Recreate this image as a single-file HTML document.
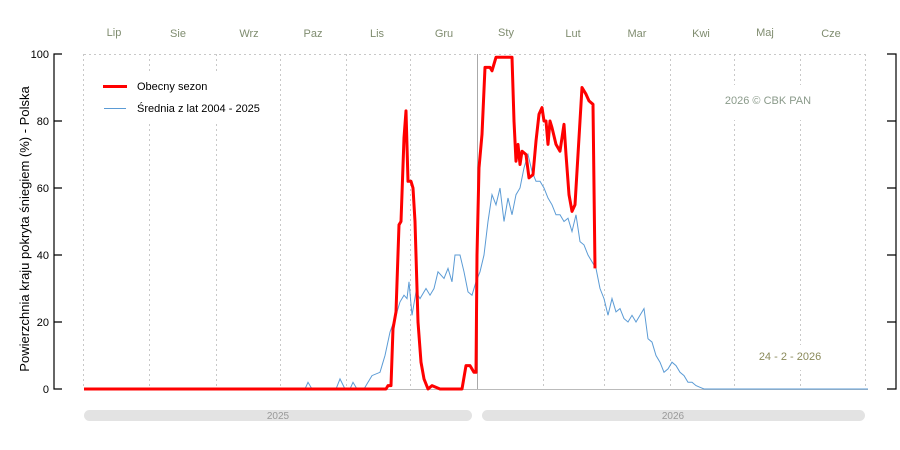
<!DOCTYPE html>
<html><head><meta charset="utf-8"><style>
html,body{margin:0;padding:0;background:#fff;}
svg{display:block;font-family:"Liberation Sans",Arial,sans-serif;}
</style></head><body>
<svg id="s" width="900" height="450" viewBox="0 0 900 450" xmlns="http://www.w3.org/2000/svg">
<g stroke="#c8c8c8" stroke-dasharray="2,3" stroke-width="1">
<line x1="84" y1="54.5" x2="868" y2="54.5"/>
<line x1="83.5" y1="54" x2="83.5" y2="389"/>
<line x1="149.5" y1="54" x2="149.5" y2="389"/>
<line x1="216.5" y1="54" x2="216.5" y2="389"/>
<line x1="280.5" y1="54" x2="280.5" y2="389"/>
<line x1="346.5" y1="54" x2="346.5" y2="389"/>
<line x1="410.5" y1="54" x2="410.5" y2="389"/>
<line x1="543.5" y1="54" x2="543.5" y2="389"/>
<line x1="604.5" y1="54" x2="604.5" y2="389"/>
<line x1="670.5" y1="54" x2="670.5" y2="389"/>
<line x1="734.5" y1="54" x2="734.5" y2="389"/>
<line x1="800.5" y1="54" x2="800.5" y2="389"/>
<line x1="865.5" y1="54" x2="865.5" y2="389"/>
</g>
<line x1="477.5" y1="54" x2="477.5" y2="389" stroke="#aaa"/>
<line x1="84" y1="389.5" x2="868" y2="389.5" stroke="#bbb"/>
<rect x="95" y="72" width="170" height="50" fill="#fff"/>
<rect x="720" y="85" width="100" height="35" fill="#fff"/>
<rect x="750" y="345" width="80" height="25" fill="#fff"/>
<g fill="#7f8c6f" font-size="11" text-anchor="middle">
<text x="114" y="36">Lip</text><text x="178" y="37">Sie</text><text x="249" y="37">Wrz</text><text x="313" y="37">Paz</text><text x="377" y="37">Lis</text><text x="444" y="37">Gru</text><text x="506" y="36">Sty</text><text x="573" y="37">Lut</text><text x="637" y="37">Mar</text><text x="701" y="37">Kwi</text><text x="765" y="36">Maj</text><text x="831" y="37">Cze</text>
</g>
<g stroke="#000" stroke-width="1.2" fill="none">
<path d="M62 54H54V389H62M54 121H62M54 188H62M54 255H62M54 322H62"/>
<path d="M887 54H896V389H887M887 121H896M887 188H896M887 255H896M887 322H896"/>
</g>
<g font-size="11" text-anchor="end" fill="#000">
<text x="49" y="58">100</text><text x="49" y="125">80</text><text x="49" y="192">60</text><text x="49" y="259">40</text><text x="49" y="326">20</text><text x="49" y="393">0</text>
</g>
<text transform="translate(29,229) rotate(-90)" font-size="13" text-anchor="middle">Powierzchnia kraju pokryta śniegiem (%) -  Polska</text>
<line x1="103" y1="86.5" x2="127" y2="86.5" stroke="#f00" stroke-width="3"/>
<text x="137" y="90" font-size="11">Obecny sezon</text>
<line x1="104" y1="108.5" x2="126" y2="108.5" stroke="#5b9bd5" stroke-width="1"/>
<text x="137" y="112" font-size="11">Średnia z lat 2004 - 2025</text>
<text x="768" y="104" font-size="11" fill="#8a9a8a" text-anchor="middle">2026  © CBK PAN</text>
<text x="790" y="360" font-size="11" fill="#8a8a5a" text-anchor="middle">24 - 2 - 2026</text>
<rect x="84" y="410" width="388" height="11" rx="5.5" fill="#e3e3e3"/>
<rect x="482" y="410" width="383" height="11" rx="5.5" fill="#e3e3e3"/>
<text x="278" y="419" font-size="10" fill="#999" text-anchor="middle">2025</text>
<text x="673" y="419" font-size="10" fill="#999" text-anchor="middle">2026</text>
<path id="blue" fill="none" stroke="#5b9bd5" stroke-width="1"/>
<path id="red" fill="none" stroke="#f00" stroke-width="3" stroke-linejoin="round"/>
</svg>
<script>
function P(a){return a.map((p,i)=>(i?'L':'M')+p[0]+' '+(389-p[1]*3.35).toFixed(1)).join('');}
var b=[[84,0],[305,0],[308,2],[312,0],[336,0],[340,3],[345,0],[350,0],[353,2],[357,0],[364,0],[368,2],[372,4],[380,5],[385,10],[390,17],[396,22],[400,26],[404,28],[407,27],[409,32],[412,22],[416,29],[420,27],[426,30],[430,28],[434,30],[438,35],[444,33],[448,36],[452,32],[455,40],[460,40],[464,35],[468,29],[472,28],[476,32],[480,35],[484,40],[488,50],[492,58],[496,55],[500,60],[504,50],[508,57],[512,52],[516,58],[520,60],[524,66],[528,70],[532,65],[536,62],[540,62],[544,60],[548,57],[552,55],[556,52],[560,52],[564,50],[568,51],[572,47],[576,52],[580,44],[584,43],[588,40],[592,38],[596,36],[600,30],[604,27],[608,22],[612,27],[616,23],[620,24],[624,21],[628,20],[632,22],[636,20],[640,22],[644,24],[648,15],[652,14],[656,10],[660,8],[664,5],[668,6],[672,8],[676,7],[680,5],[684,4],[688,2],[692,2],[696,1],[700,0.5],[704,0],[868,0]];
var r=[[84,0],[386,0],[388,1],[391,1],[393,18],[396,23],[399,49],[401,50],[404,75],[406,83],[408,62],[411,62],[413,60],[415,50],[418,20],[421,8],[424,3],[428,0],[432,1],[440,0],[462,0],[466,7],[470,7],[474,5],[476,5],[477,40],[479,66],[482,76],[485,96],[490,96],[492,95],[496,99],[512,99],[514,80],[516,68],[518,73],[520,67],[522,71],[526,70],[529,63],[533,64],[536,74],[539,82],[542,84],[544,80],[546,80],[548,73],[550,80],[552,78],[556,73],[560,71],[564,79],[566,70],[569,58],[572,53],[575,55],[578,70],[582,90],[586,88],[589,86],[593,85],[595,36]];
document.getElementById('blue').setAttribute('d',P(b));
document.getElementById('red').setAttribute('d',P(r));
</script>
</body></html>
